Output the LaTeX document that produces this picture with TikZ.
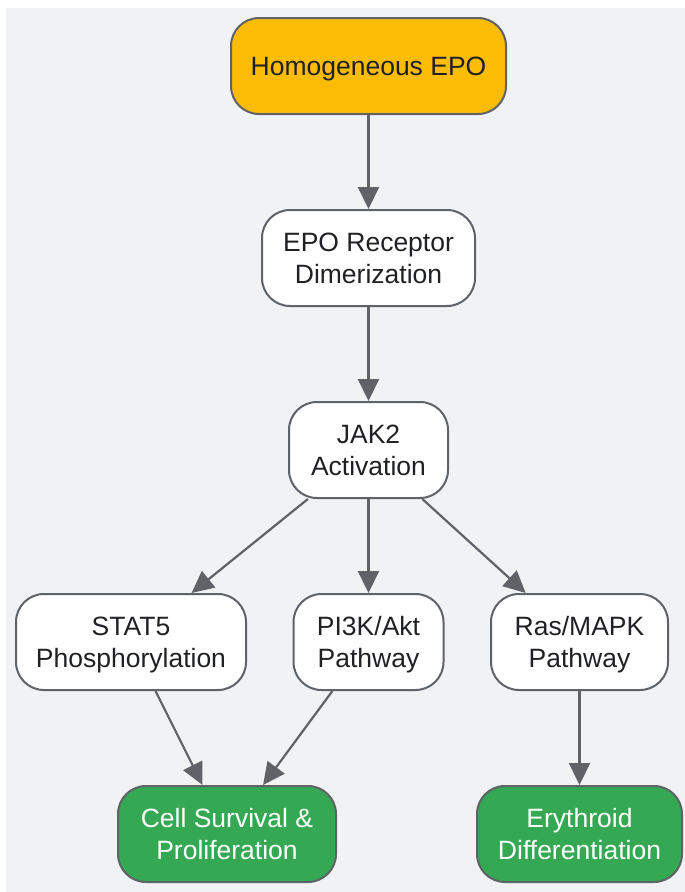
\documentclass[tikz,border=0pt]{standalone}
\usepackage{fontspec}
\setmainfont{Liberation Sans}
\usepackage{tikz}
\usetikzlibrary{shapes, arrows.meta, positioning, calc}

\definecolor{bggray}{HTML}{F1F2F4}
\definecolor{edgegray}{HTML}{5F6368}
\definecolor{txtdark}{HTML}{202124}
\definecolor{amber}{HTML}{FBBC05}
\definecolor{leaf}{HTML}{34A853}

\tikzset{
	stepnode/.style={draw=edgegray, line width=2pt, rounded corners=28pt, fill=white,
		minimum height=96pt, align=center, inner sep=0pt, text=txtdark, text depth=0pt,
		font=\fontsize{26.5}{31.5}\selectfont},
	startnode/.style={stepnode, fill=amber},
	endnode/.style={stepnode, fill=leaf, text=white},
	link/.style={draw=edgegray, line width=2.2pt, -{Triangle[length=22pt,width=21pt]}}
}

\begin{document}
\begin{tikzpicture}[x=1pt, y=-1pt]
				\useasboundingbox (0,0) rectangle (685,892);
				\fill[bggray] (6,8) rectangle (685,892);
				% nodes
				\node[startnode, minimum width=275pt] (epo) at (368.5,66) {Homogeneous EPO};
				\node[stepnode, minimum width=213pt] (receptor) at (368.5,258) {EPO Receptor\\Dimerization};
				\node[stepnode, minimum width=159pt] (jak) at (368.5,450) {JAK2\\Activation};
				\node[stepnode, minimum width=230pt] (stat) at (131,642) {STAT5\\Phosphorylation};
				\node[stepnode, minimum width=150pt] (pik) at (368.5,642) {PI3K/Akt\\Pathway};
				\node[stepnode, minimum width=177pt] (ras) at (579.5,642) {Ras/MAPK\\Pathway};
				\node[endnode, minimum width=218pt] (survival) at (227,834) {Cell Survival \&\\Proliferation};
				\node[endnode, minimum width=205pt] (erythroid) at (579.5,834) {Erythroid\\Differentiation};
				% arrows
				\foreach \a/\b in {epo/receptor, receptor/jak, jak/stat, jak/pik, jak/ras,
					stat/survival, pik/survival, ras/erythroid}
					\draw[link] (\a) -- (\b);
			\end{tikzpicture}
\end{document}
